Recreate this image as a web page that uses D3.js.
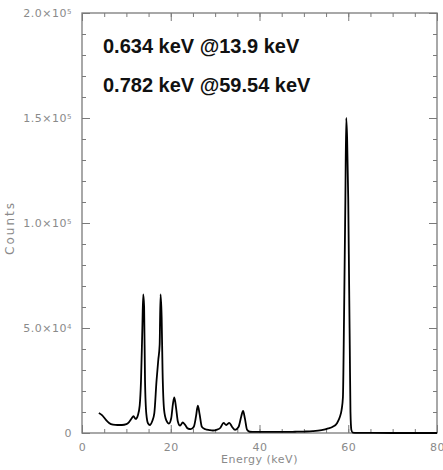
<!DOCTYPE html>
<html>
<head>
<meta charset="utf-8">
<script src="https://cdn.jsdelivr.net/npm/d3@7"></script>
<style>
  body { margin: 0; background: #fff; }
  text { font-family: "DejaVu Sans", sans-serif; }
  text.note { font-family: "Liberation Sans", Arial, sans-serif; font-weight: bold; }
</style>
</head>
<body>
<div id="chart"></div>
<script>
// Spektrum (Energie in keV, Counts)
var energy = [3.8, 4.5, 5.3, 6.1, 7.0, 8.0, 9.0, 10.0, 10.6, 11.2, 11.6, 12.1, 12.6, 13.0, 13.3, 13.6, 13.8, 14.0, 14.2, 14.5,
  14.9, 15.3, 15.8, 16.3, 16.8, 17.2, 17.5, 17.7, 17.95, 18.15, 18.5, 19.0, 19.6, 20.1, 20.5, 20.8, 21.2, 21.6, 22.1, 22.7,
  23.2, 23.8, 24.5, 25.2, 25.7, 26.1, 26.5, 27.0, 27.8, 28.7, 29.5, 30.3, 31.2, 31.9, 32.5, 33.2, 33.8, 34.5, 35.3, 35.9,
  36.3, 36.7, 37.2, 37.8, 39, 42, 45, 48, 50, 52, 54, 55.5, 56.5, 57.5, 58.1, 58.5, 58.8, 59.05, 59.35, 59.55,
  59.75, 60.0, 60.2, 60.35, 60.5, 60.7, 61.0, 62, 70, 80];
var counts = [9500, 8500, 6500, 4800, 4000, 3800, 3800, 4200, 5200, 7000, 8000, 6700, 8500, 13000, 25000, 50000, 66000, 60000, 25000, 9000,
  4500, 3800, 5500, 9500, 25000, 35000, 42000, 66000, 55000, 30000, 11000, 6000, 4500, 7000, 14000, 17000, 12000, 5500, 3500, 5000,
  4000, 2200, 1800, 3000, 8000, 13000, 9000, 3000, 1800, 1400, 1200, 1500, 2500, 4800, 3800, 4800, 3000, 1500, 3000, 8000,
  10500, 7000, 1500, 600, 500, 500, 500, 600, 700, 900, 1400, 2200, 3000, 4800, 7600, 11000, 17000, 55000, 111000, 150000,
  140000, 111000, 70000, 40000, 10000, 1500, 200, 50, 0, 0];

// Achsen-Ticks
var xMajor = [0, 20, 40, 60, 80];
var xMinor = d3.range(0, 81, 5);
var yMajor = [0, 50000, 100000, 150000, 200000];
var yMinor = d3.range(0, 200001, 10000);
var yMant = ["0", "5.0", "1.0", "1.5", "2.0"];
var yExp = ["", "4", "5", "5", "5"];

// Beschriftungen
var notes = ["0.634 keV @13.9 keV", "0.782 keV @59.54 keV"];

var margin = {top: 13, right: 6, bottom: 37, left: 82},
    width = 443 - margin.left - margin.right,
    height = 470 - margin.top - margin.bottom;

var svg = d3.select("#chart")
  .append("svg")
    .attr("width", width + margin.left + margin.right)
    .attr("height", height + margin.top + margin.bottom)
  .append("g")
    .attr("transform", "translate(" + margin.left + "," + margin.top + ")");

var x = d3.scaleLinear().domain([0, 80]).range([0, width]);
var y = d3.scaleLinear().domain([0, 200000]).range([height, 0]);

var grey = "#7a7a7a";

function styleAxis(g) {
  g.select(".domain").remove();
  g.selectAll(".tick line").attr("stroke", grey).attr("stroke-width", 1);
  g.selectAll(".tick text").attr("fill", "#8a8a8a").attr("font-size", 11).style("letter-spacing", "0.5px");
}

// Minor-Ticks auf allen vier Seiten
svg.append("g").attr("transform", "translate(0," + height + ")")
  .call(d3.axisBottom(x).tickValues(xMinor).tickSize(-4).tickFormat("")).call(styleAxis);
svg.append("g")
  .call(d3.axisTop(x).tickValues(xMinor).tickSize(-4).tickFormat("")).call(styleAxis);
svg.append("g")
  .call(d3.axisLeft(y).tickValues(yMinor).tickSize(-4).tickFormat("")).call(styleAxis);
svg.append("g").attr("transform", "translate(" + width + ",0)")
  .call(d3.axisRight(y).tickValues(yMinor).tickSize(-4).tickFormat("")).call(styleAxis);

// Major-Ticks
svg.append("g").attr("transform", "translate(0," + height + ")")
  .call(d3.axisBottom(x).tickValues(xMajor).tickSize(-8).tickPadding(10)).call(styleAxis);
svg.append("g")
  .call(d3.axisTop(x).tickValues(xMajor).tickSize(-8).tickFormat("")).call(styleAxis);
svg.append("g").attr("transform", "translate(" + width + ",0)")
  .call(d3.axisRight(y).tickValues(yMajor).tickSize(-8).tickFormat("")).call(styleAxis);

var yAx = svg.append("g")
  .call(d3.axisLeft(y).tickValues(yMajor).tickSize(-8).tickPadding(10))
  .call(styleAxis);

// y Labels mit Exponent
yAx.selectAll(".tick text").text(null).each(function(d, i) {
  var t = d3.select(this);
  t.append("tspan").text(yExp[i] ? yMant[i] + "\u00d710" : yMant[i]);
  if (yExp[i]) {
    t.append("tspan").attr("dy", "-0.45em").attr("font-size", 7).text(yExp[i]);
  }
});

// Rahmen
svg.append("rect")
  .attr("width", width).attr("height", height)
  .attr("fill", "none").attr("stroke", grey).attr("stroke-width", 1.3);

// Spektrum
var pts = energy.map(function(e, i) { return [e, counts[i]]; });
svg.append("path")
  .datum(pts)
  .attr("fill", "none")
  .attr("stroke", "#000")
  .attr("stroke-width", 1.8)
  .attr("stroke-linejoin", "round")
  .attr("d", d3.line()
    .curve(d3.curveMonotoneX)
    .x(function(d) { return x(d[0]); })
    .y(function(d) { return y(d[1]); }));

// Achsentitel
svg.append("text")
  .attr("x", width / 2).attr("y", height + 30)
  .attr("text-anchor", "middle")
  .attr("fill", "#8a8a8a").attr("font-size", 11).style("letter-spacing", "0.5px")
  .text("Energy (keV)");

svg.append("text")
  .attr("transform", "translate(" + (-68) + "," + (height / 2 + 5) + ") rotate(-90)")
  .attr("text-anchor", "middle")
  .attr("fill", "#8a8a8a").attr("font-size", 12).style("letter-spacing", "2px")
  .text("Counts");

// Aufloesungs-Text
svg.selectAll(".note")
  .data(notes)
  .enter()
  .append("text")
    .attr("class", "note")
    .attr("x", 21)
    .attr("y", function(d, i) { return 40 + i * 38.5; })
    .attr("font-size", 20)
    .attr("fill", "#111")
    .text(function(d) { return d; });
</script>
</body>
</html>
